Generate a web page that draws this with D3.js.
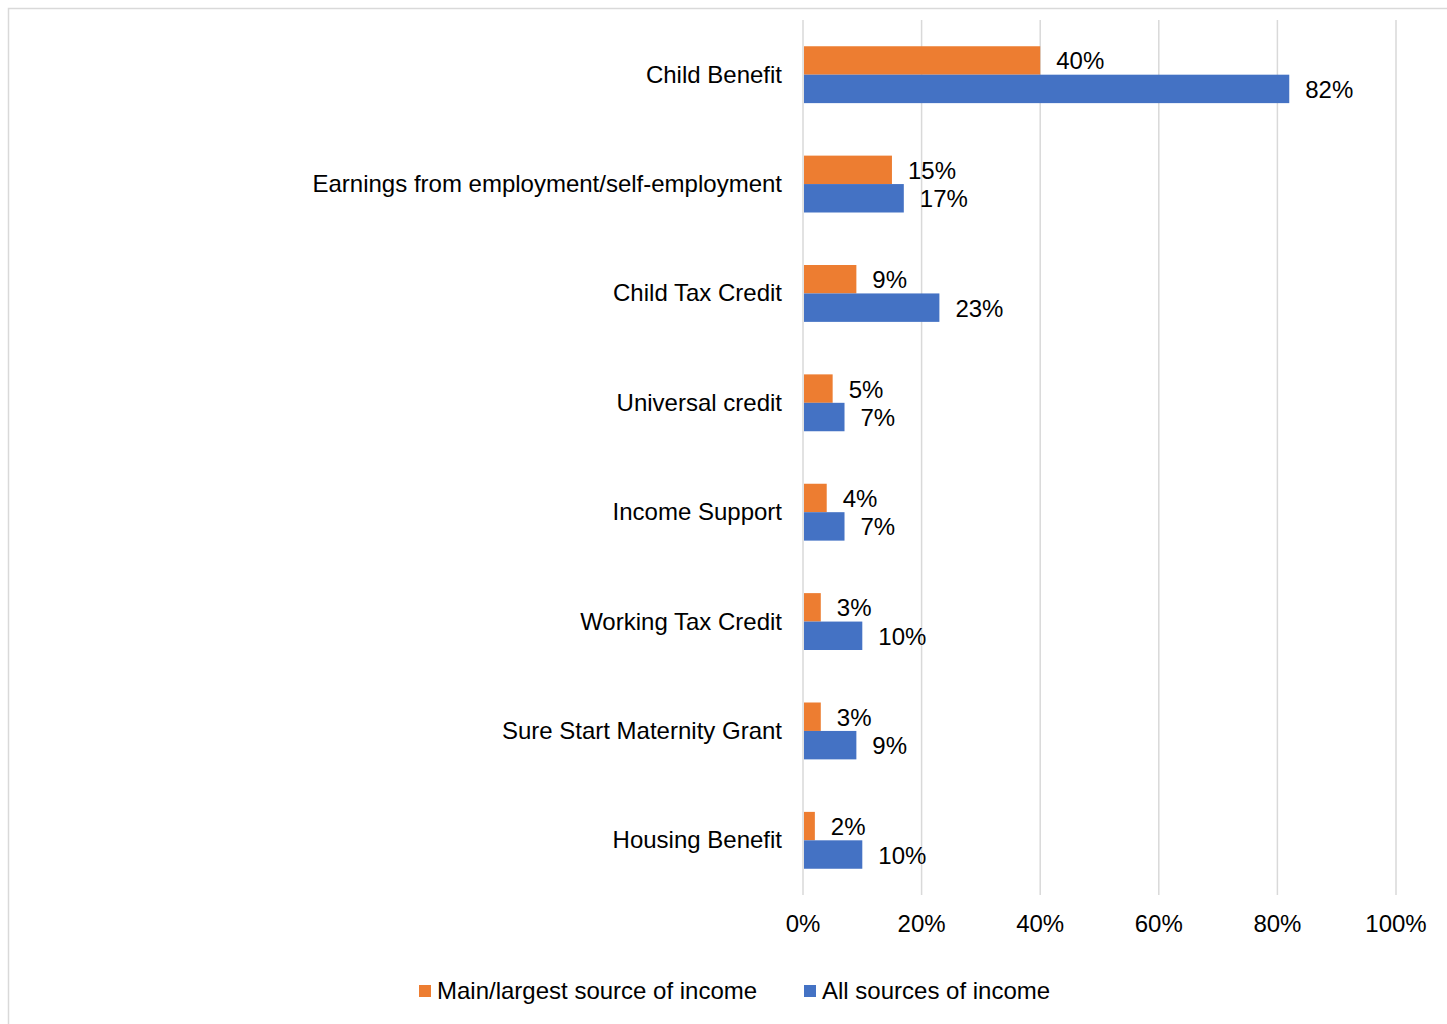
<!DOCTYPE html>
<html>
<head>
<meta charset="utf-8">
<script src="https://cdn.jsdelivr.net/npm/d3@7"></script>
<style>
  html, body { margin: 0; padding: 0; background: #fff; }
  svg { display: block; font-family: "Liberation Sans", Arial, sans-serif; }
</style>
</head>
<body>
<svg id="chart" width="1447" height="1024"></svg>
<script>
// Sources of income (% of respondents)
const categories = [
  "Child Benefit",
  "Earnings from employment/self-employment",
  "Child Tax Credit",
  "Universal credit",
  "Income Support",
  "Working Tax Credit",
  "Sure Start Maternity Grant",
  "Housing Benefit"
];
const mainSource = [40, 15, 9, 5, 4, 3, 3, 2];
const allSources = [82, 17, 23, 7, 7, 10, 9, 10];
const seriesNames = ["Main/largest source of income", "All sources of income"];
const seriesColors = ["#ED7D31", "#4472C4"];
const xTicks = [0, 20, 40, 60, 80, 100];

const svg = d3.select("#chart");
const gridColor = "#D9D9D9";
const fontSize = 24;

// outer frame
svg.append("rect")
  .attr("x", 8.5).attr("y", 8.5)
  .attr("width", 1460).attr("height", 1040)
  .attr("fill", "none").attr("stroke", gridColor).attr("stroke-width", 1.5);

const x = d3.scaleLinear().domain([0, 100]).range([803, 1396]);
const y = d3.scaleBand().domain(categories).range([20, 895])
  .paddingInner(0.48).paddingOuter(0.24);
const ySub = d3.scaleBand().domain([0, 1]).range([0, y.bandwidth()]);

// vertical gridlines
svg.append("g").selectAll("line").data(xTicks).join("line")
  .attr("x1", d => x(d)).attr("x2", d => x(d))
  .attr("y1", 20).attr("y2", 895)
  .attr("stroke", gridColor).attr("stroke-width", 1.5);

// x tick labels
svg.append("g").selectAll("text").data(xTicks).join("text")
  .attr("x", d => x(d)).attr("y", 932)
  .attr("text-anchor", "middle")
  .attr("font-size", fontSize).attr("fill", "#000")
  .text(d => d + "%");

// category labels
svg.append("g").selectAll("text").data(categories).join("text")
  .attr("x", 782)
  .attr("y", d => y(d) + y.bandwidth() / 2 + 8)
  .attr("text-anchor", "end")
  .attr("font-size", fontSize).attr("fill", "#000")
  .text(d => d);

// bars and value labels
const series = [mainSource, allSources];
series.forEach((vals, si) => {
  const g = svg.append("g");
  const rows = categories.map((c, i) => ({ c, v: vals[i] }));
  g.selectAll("rect").data(rows).join("rect")
    .attr("x", x(0) + 1)
    .attr("y", d => y(d.c) + ySub(si))
    .attr("width", d => x(d.v) - x(0) - 1)
    .attr("height", ySub.bandwidth())
    .attr("fill", seriesColors[si]);
  g.selectAll("text").data(rows).join("text")
    .attr("x", d => x(d.v) + 16)
    .attr("y", d => y(d.c) + ySub(si) + ySub.bandwidth() / 2 + 9)
    .attr("font-size", fontSize).attr("fill", "#000")
    .text(d => d.v + "%");
});

// legend
const legendItems = [
  { name: seriesNames[0], color: seriesColors[0], x: 419 },
  { name: seriesNames[1], color: seriesColors[1], x: 804 }
];
const lg = svg.append("g").selectAll("g").data(legendItems).join("g");
lg.append("rect")
  .attr("x", d => d.x).attr("y", 985)
  .attr("width", 12).attr("height", 12)
  .attr("fill", d => d.color);
lg.append("text")
  .attr("x", d => d.x + 18).attr("y", 999)
  .attr("font-size", fontSize).attr("fill", "#000")
  .text(d => d.name);
</script>
</body>
</html>
